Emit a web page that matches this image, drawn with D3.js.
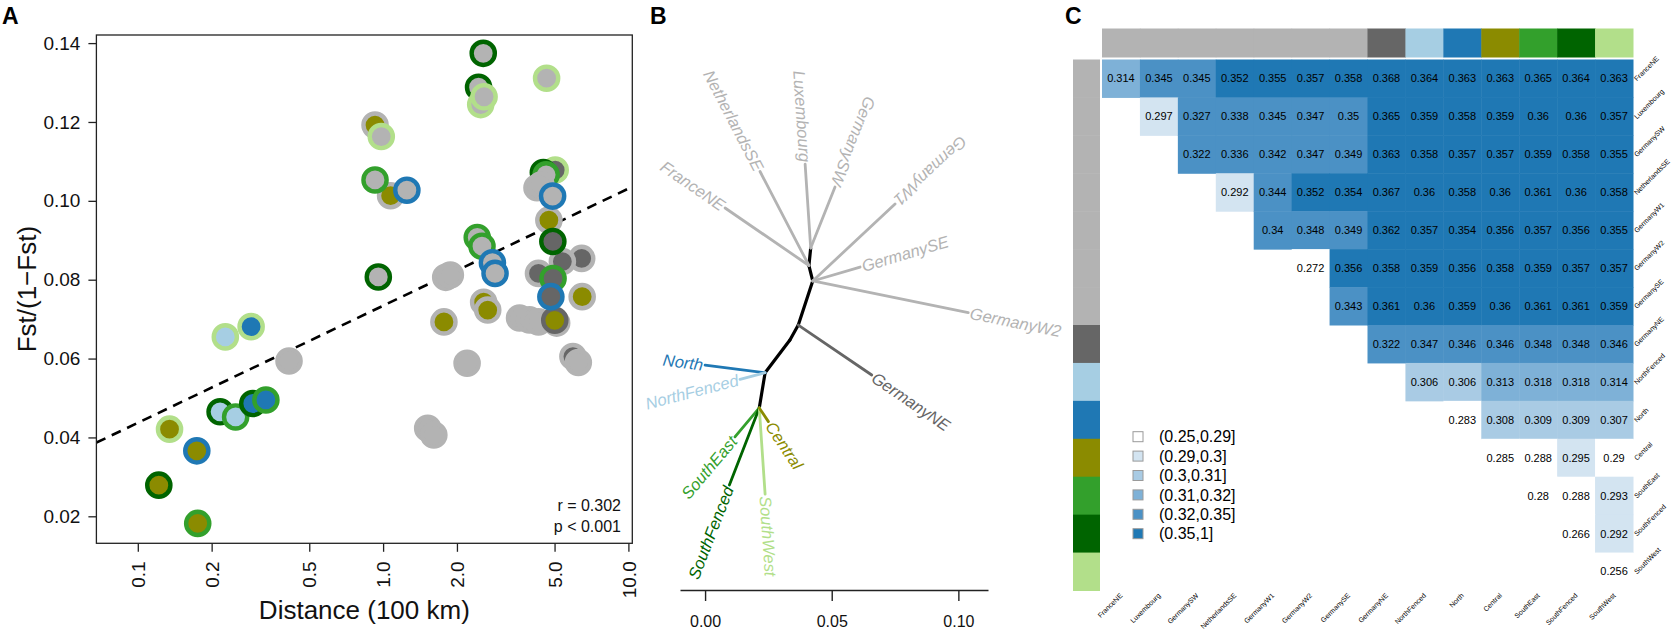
<!DOCTYPE html>
<html>
<head>
<meta charset="utf-8">
<script src="https://cdn.jsdelivr.net/npm/d3@7"></script>
<style>
  body { margin: 0; background: #fff; }
  text { font-family: "Liberation Sans", Arial, Helvetica, sans-serif; }
</style>
</head>
<body>
<svg id="fig" width="1674" height="631"></svg>
<script>
// ---------------- data ----------------
const popNames = ["FranceNE", "Luxembourg", "GermanySW", "NetherlandsSE", "GermanyW1", "GermanyW2", "GermanySE",
    "GermanyNE", "NorthFenced", "North", "Central", "SouthEast", "SouthFenced", "SouthWest"];
const popGroup = ["W", "W", "W", "W", "W", "W", "W", "NE", "NF", "N", "C", "SE", "SF", "SW"];
const groupColor = {W: "#b3b3b3", NE: "#666666", NF: "#a6cee3", N: "#1f78b4",
    C: "#8b8b00", SE: "#33a02c", SF: "#006400", SW: "#b2df8a"};

// panel A: pairwise distance (100 km) vs Fst/(1-Fst); fill / ring = the two populations' groups
const pairDist = [6.45, 5.38, 4.30, 5.94, 5.10,
    1.80, 1.88, 2.20, 3.60, 3.95, 4.30, 6.25, 1.52, 1.61, 0.4135,
    0.927, 1.073, 1.77, 2.57, 2.67, 6.48, 4.74, 5.01,
    5.03, 4.50, 4.62, 4.24, 4.40, 4.91, 4.92, 4.93, 4.83,
    0.927, 2.42, 2.53, 2.56, 2.45, 0.956, 4.64, 2.50, 2.58, 0.983, 1.25, 2.79, 2.86,
    0.2274, 0.2897, 0.2165, 0.2505, 0.2943, 0.3328, 0.1347, 0.174, 0.1218, 0.1755];
const pairFst = [0.0854, 0.0846, 0.0816, 0.0605, 0.0690,
    0.0806, 0.0812, 0.0588, 0.0703, 0.0698, 0.0693, 0.0590, 0.0423, 0.0406, 0.0594,
    0.1192, 0.1013, 0.0693, 0.0743, 0.0723, 0.0757, 0.0951, 0.0697,
    0.1078, 0.1072, 0.1066, 0.1033, 0.1040, 0.1012, 0.0897, 0.0803, 0.0757,
    0.1053, 0.0907, 0.0885, 0.1374, 0.1288, 0.0807, 0.1311, 0.1244, 0.1264, 0.1163, 0.1027, 0.0843, 0.0816,
    0.0655, 0.0681, 0.0465, 0.0452, 0.0486, 0.0495, 0.0421, 0.0366, 0.0279, 0.0182];
const pairFill = ["NE", "NE", "NE", "NE", "NE",
    "W", "W", "W", "W", "W", "W", "W", "W", "W", "W",
    "C", "C", "C", "C", "C", "C", "C", "C",
    "NE", "W", "W", "W", "W", "W", "NE", "NE", "NE",
    "W", "W", "W", "W", "W", "W", "W", "W", "W", "W", "W", "W", "W",
    "NF", "N", "NF", "NF", "N", "N", "C", "C", "C", "C"];
const pairRing = ["W", "W", "W", "W", "W",
    "W", "W", "W", "W", "W", "W", "W", "W", "W", "W",
    "W", "W", "W", "W", "W", "W", "W", "NE",
    "SW", "SF", "SE", "W", "W", "N", "SF", "SE", "N",
    "SE", "SE", "SE", "SF", "SF", "SF", "SW", "SW", "SW", "SW", "N", "N", "N",
    "SW", "SW", "SF", "SE", "SF", "SE", "SW", "N", "SF", "SE"];
const fitIntercept = 0.0734, fitSlope = 0.0297;   // Fst' = a + b*log10(dist)
const xTicksA = [0.1, 0.2, 0.5, 1, 2, 5, 10];
const yTicksA = [0.02, 0.04, 0.06, 0.08, 0.10, 0.12, 0.14];
const statLines = ["r = 0.302", "p < 0.001"];

// panel B: unrooted tree
const nodeId = ["n1", "n2", "n3", "n4", "n5", "n6", "n7",
    "FranceNE", "NetherlandsSE", "Luxembourg", "GermanySW", "GermanyW1", "GermanySE", "GermanyW2",
    "GermanyNE", "North", "NorthFenced", "SouthEast", "SouthFenced", "SouthWest", "Central"];
const nodeParent = [null, "n1", "n2", "n3", "n4", "n5", "n6",
    "n2", "n2", "n1", "n1", "n3", "n3", "n3",
    "n4", "n6", "n6", "n7", "n7", "n7", "n7"];
const nodeX = [0.0417, 0.0410, 0.0425, 0.0368, 0.0335, 0.0237, 0.0214,
    0.0079, 0.0217, 0.0395, 0.0513, 0.0750, 0.0612, 0.1039,
    0.0658, 0.0000, 0.0138, 0.0118, 0.0096, 0.0237, 0.0250];
const nodeY = [0.1389, 0.1320, 0.1259, 0.1085, 0.1026, 0.0897, 0.0758,
    0.1547, 0.1691, 0.1720, 0.1630, 0.1563, 0.1314, 0.1134,
    0.0888, 0.0927, 0.0871, 0.0644, 0.0454, 0.0418, 0.0704];
const treeTicks = [0, 0.05, 0.10];

// panel C: pairwise Fst, upper triangle (row i starts at column i)
const fstRows = [
    [0.314, 0.345, 0.345, 0.352, 0.355, 0.357, 0.358, 0.368, 0.364, 0.363, 0.363, 0.365, 0.364, 0.363],
    [0.297, 0.327, 0.338, 0.345, 0.347, 0.35, 0.365, 0.359, 0.358, 0.359, 0.36, 0.36, 0.357],
    [0.322, 0.336, 0.342, 0.347, 0.349, 0.363, 0.358, 0.357, 0.357, 0.359, 0.358, 0.355],
    [0.292, 0.344, 0.352, 0.354, 0.367, 0.36, 0.358, 0.36, 0.361, 0.36, 0.358],
    [0.34, 0.348, 0.349, 0.362, 0.357, 0.354, 0.356, 0.357, 0.356, 0.355],
    [0.272, 0.356, 0.358, 0.359, 0.356, 0.358, 0.359, 0.357, 0.357],
    [0.343, 0.361, 0.36, 0.359, 0.36, 0.361, 0.361, 0.359],
    [0.322, 0.347, 0.346, 0.346, 0.348, 0.348, 0.346],
    [0.306, 0.306, 0.313, 0.318, 0.318, 0.314],
    [0.283, 0.308, 0.309, 0.309, 0.307],
    [0.285, 0.288, 0.295, 0.29],
    [0.28, 0.288, 0.293],
    [0.266, 0.292],
    [0.256]
];
const binUpper = [0.29, 0.30, 0.31, 0.32, 0.35, 1];
const binLabels = ["(0.25,0.29]", "(0.29,0.3]", "(0.3,0.31]", "(0.31,0.32]", "(0.32,0.35]", "(0.35,1]"];
const binColors = ["#ffffff", "#d3e4f1", "#a9cbe4", "#7eb1d7", "#4b91c5", "#1f78b4"];

// ---------------- drawing ----------------
const svg = d3.select("#fig");

function panelLabel(txt, x) {
    svg.append("text").attr("x", x).attr("y", 24)
        .attr("font-size", 23).attr("font-weight", "bold").text(txt);
}

// ----- panel A -----
const boxA = {left: 96.4, right: 632.3, top: 35, bottom: 543.3};
const xA = d3.scaleLog().domain([0.1, 10]).range([137.8, 628.4]);
const yA = d3.scaleLinear().domain([0.02, 0.14]).range([516.3, 43.1]);

const gA = svg.append("g");
gA.append("clipPath").attr("id", "clipA").append("rect")
    .attr("x", boxA.left).attr("y", boxA.top)
    .attr("width", boxA.right - boxA.left).attr("height", boxA.bottom - boxA.top);

let dEnds = [xA.invert(boxA.left), xA.invert(boxA.right)];
gA.append("path")
    .datum(dEnds)
    .attr("clip-path", "url(#clipA)")
    .attr("fill", "none").attr("stroke", "#000").attr("stroke-width", 2.6)
    .attr("stroke-dasharray", "10,7")
    .attr("d", d3.line()
        .x(d => xA(d))
        .y(d => yA(fitIntercept + fitSlope * Math.log10(d))));

pairDist.forEach(function (d, i) {
    gA.append("circle")
        .attr("cx", xA(d)).attr("cy", yA(pairFst[i])).attr("r", 11.6)
        .attr("fill", groupColor[pairFill[i]])
        .attr("stroke", groupColor[pairRing[i]])
        .attr("stroke-width", 4.4);
});

gA.append("rect")
    .attr("x", boxA.left).attr("y", boxA.top)
    .attr("width", boxA.right - boxA.left).attr("height", boxA.bottom - boxA.top)
    .attr("fill", "none").attr("stroke", "#222").attr("stroke-width", 1.3);

let yAxisA = gA.append("g")
    .attr("transform", "translate(" + boxA.left + ",0)")
    .call(d3.axisLeft(yA).tickValues(yTicksA).tickSize(8).tickPadding(8).tickFormat(d3.format(".2f")));
yAxisA.select(".domain").remove();
yAxisA.selectAll("line").attr("stroke", "#222").attr("stroke-width", 1.3);
yAxisA.selectAll("text").attr("font-size", 19).attr("fill", "#111")
    .attr("font-family", "'Liberation Sans', Arial, sans-serif");

let xAxisA = gA.append("g")
    .attr("transform", "translate(0," + boxA.bottom + ")")
    .call(d3.axisBottom(xA).tickValues(xTicksA).tickSize(8.5).tickFormat(d3.format(".1f")));
xAxisA.select(".domain").remove();
xAxisA.selectAll("line").attr("stroke", "#222").attr("stroke-width", 1.3);
xAxisA.selectAll("text")
    .attr("font-size", 19).attr("fill", "#111")
    .attr("font-family", "'Liberation Sans', Arial, sans-serif")
    .attr("transform", "rotate(-90)")
    .attr("text-anchor", "end")
    .attr("x", -18).attr("y", 0).attr("dy", "0.35em");

gA.append("text")
    .attr("x", (boxA.left + boxA.right) / 2).attr("y", 619)
    .attr("text-anchor", "middle").attr("font-size", 26).attr("fill", "#111")
    .text("Distance (100 km)");

gA.append("text")
    .attr("transform", "translate(36," + ((boxA.top + boxA.bottom) / 2 + 0) + ") rotate(-90)")
    .attr("text-anchor", "middle").attr("font-size", 26).attr("fill", "#111")
    .text("Fst/(1\u2212Fst)");

statLines.forEach(function (s, i) {
    gA.append("text")
        .attr("x", 621).attr("y", 511 + i * 21)
        .attr("text-anchor", "end").attr("font-size", 16).attr("fill", "#111")
        .text(s);
});

panelLabel("A", 2);

// ----- panel B -----
const tx = d3.scaleLinear().domain([-0.0099, 0.1117]).range([680, 988]);
const ty = d3.scaleLinear().domain([0, 0.1]).range([600, 346.6]);
const gB = svg.append("g");

const nodeIndex = {};
nodeId.forEach((id, i) => nodeIndex[id] = i);

function tipColor(id) {
    let k = popNames.indexOf(id);
    return k < 0 ? "#000" : groupColor[popGroup[k]];
}

// tip branches first, backbone on top
nodeId.forEach(function (id, i) {
    let p = nodeParent[i];
    if (p === null) return;
    let j = nodeIndex[p];
    gB.append("line")
        .attr("x1", tx(nodeX[j])).attr("y1", ty(nodeY[j]))
        .attr("x2", tx(nodeX[i])).attr("y2", ty(nodeY[i]))
        .attr("stroke", tipColor(id))
        .attr("stroke-width", popNames.indexOf(id) < 0 ? 3.2 : 2.8)
        .attr("stroke-linecap", "round");
});

nodeId.forEach(function (id, i) {
    if (popNames.indexOf(id) < 0) return;
    let j = nodeIndex[nodeParent[i]];
    let x0 = tx(nodeX[j]), y0 = ty(nodeY[j]);
    let x1 = tx(nodeX[i]), y1 = ty(nodeY[i]);
    let theta = Math.atan2(y1 - y0, x1 - x0) * 180 / Math.PI;
    let outward = theta > -30 && theta < 100;
    let ux = Math.cos(theta * Math.PI / 180), uy = Math.sin(theta * Math.PI / 180);
    let px = x1 + ux * 2, py = y1 + uy * 2;
    gB.append("text")
        .attr("transform", "translate(" + px + "," + py + ") rotate(" + (outward ? theta : theta + 180) + ")")
        .attr("text-anchor", outward ? "start" : "end")
        .attr("dy", "0.35em")
        .attr("font-size", 16.5).attr("font-style", "italic")
        .attr("fill", tipColor(id))
        .text(id);
});

let treeAxis = gB.append("g")
    .attr("transform", "translate(0,590)")
    .call(d3.axisBottom(tx).tickValues(treeTicks).tickSize(11).tickSizeOuter(0).tickPadding(20)
        .tickFormat(d3.format(".2f")));
treeAxis.select(".domain").attr("stroke", "#222").attr("stroke-width", 1.4);
treeAxis.selectAll("line").attr("stroke", "#222").attr("stroke-width", 1.4);
treeAxis.selectAll("text").attr("font-size", 16).attr("fill", "#111")
    .attr("font-family", "'Liberation Sans', Arial, sans-serif")
    .attr("dy", "0.35em").attr("y", 31.7);

panelLabel("B", 650);

// ----- panel C -----
const gC = svg.append("g");
const colC = d3.scaleBand().domain(popNames).range([1102, 1633]);
const rowC = d3.scaleBand().domain(popNames).range([59.5, 590.5]);
const cw = colC.bandwidth(), ch = rowC.bandwidth();

function binColor(v) {
    let k = binUpper.findIndex(u => v <= u + 1e-9);
    return binColors[k];
}

// top and left group bars
popNames.forEach(function (p, i) {
    gC.append("rect").attr("x", colC(p)).attr("y", 28.5).attr("width", cw + 0.5).attr("height", 29)
        .attr("fill", groupColor[popGroup[i]]);
    gC.append("rect").attr("x", 1073).attr("y", rowC(p)).attr("width", 27).attr("height", ch + 0.5)
        .attr("fill", groupColor[popGroup[i]]);
});

fstRows.forEach(function (row, i) {
    row.forEach(function (v, k) {
        let j = i + k;
        gC.append("rect")
            .attr("x", colC(popNames[j])).attr("y", rowC(popNames[i]))
            .attr("width", cw + 0.5).attr("height", ch + 0.5)
            .attr("fill", binColor(v));
    });
});
fstRows.forEach(function (row, i) {
    row.forEach(function (v, k) {
        let j = i + k;
        gC.append("text")
            .attr("x", colC(popNames[j]) + cw / 2).attr("y", rowC(popNames[i]) + ch / 2)
            .attr("dy", "0.36em").attr("text-anchor", "middle")
            .attr("font-size", 11).attr("fill", "#000")
            .text(String(v));
    });
});

// right labels
popNames.forEach(function (p) {
    let yy = rowC(p) + ch / 2;
    gC.append("text")
        .attr("transform", "translate(1637," + (yy + 3) + ") rotate(-45)")
        .attr("font-size", 7).attr("fill", "#000").text(p);
    let xx = colC(p) + cw / 2;
    gC.append("text")
        .attr("transform", "translate(" + (xx + 2) + ",596) rotate(-45)")
        .attr("text-anchor", "end")
        .attr("font-size", 7).attr("fill", "#000").text(p);
});

// legend
binLabels.forEach(function (lab, i) {
    let cy = 436.7 + i * 19.4;
    gC.append("rect").attr("x", 1133).attr("y", cy - 5).attr("width", 10).attr("height", 10)
        .attr("fill", binColors[i]).attr("stroke", "#9a9a9a").attr("stroke-width", 1);
    gC.append("text").attr("x", 1159).attr("y", cy).attr("dy", "0.36em")
        .attr("font-size", 16).attr("fill", "#000").text(lab);
});

panelLabel("C", 1065);
</script>
</body>
</html>
